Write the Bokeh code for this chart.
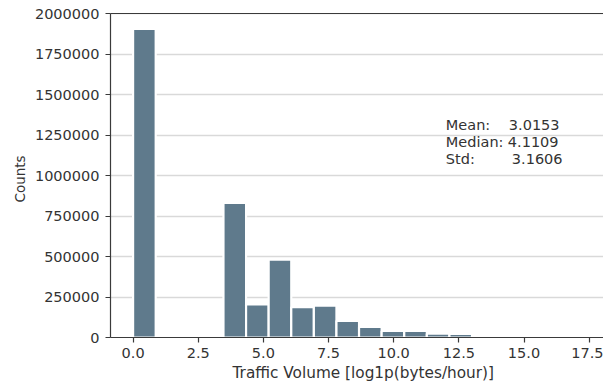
from bokeh.plotting import figure
from bokeh.models import Range1d, FixedTicker, LinearAxis, Label, Title
from bokeh.embed import file_html
from bokeh.resources import INLINE

# ---- data ----
bin_edges = [0.0, 0.867, 1.734, 2.601, 3.468, 4.335, 5.202, 6.069, 6.936, 7.803,
             8.67, 9.537, 10.404, 11.271, 12.138, 13.005, 13.872, 14.739, 15.606,
             16.473, 17.34]
counts = [1905000, 0, 0, 0, 831000, 205000, 481000, 187000, 196000, 103000,
          66000, 40000, 40000, 23000, 22000, 3000, 1200, 500, 200, 80]
x_ticks = [0.0, 2.5, 5.0, 7.5, 10.0, 12.5, 15.0, 17.5]
x_tick_labels = ["0.0", "2.5", "5.0", "7.5", "10.0", "12.5", "15.0", "17.5"]
y_ticks = [0, 250000, 500000, 750000, 1000000, 1250000, 1500000, 1750000, 2000000]
y_tick_labels = ["0", "250000", "500000", "750000", "1000000", "1250000",
                 "1500000", "1750000", "2000000"]
stat_names = ["Mean:", "Median:", "Std:"]
stat_values = ["3.0153", "4.1109", "3.1606"]
x_label = "Traffic Volume [log1p(bytes/hour)]"
y_label = "Counts"

FONT = "DejaVu Sans"
FS = "14.5px"
TXT = "#333333"
AX = "#3a3a3a"
Y_MAX = 2000250

p = figure(width=603, height=386,
           x_range=Range1d(-0.867, 18.05), y_range=Range1d(0, Y_MAX),
           output_backend="svg", toolbar_location=None,
           min_border_left=110, min_border_right=0,
           min_border_top=13, min_border_bottom=49)
p.outline_line_color = None
p.background_fill_color = "white"

p.xgrid.visible = False
p.ygrid.grid_line_color = "#d9d9d9"
p.ygrid.grid_line_width = 1.5

p.quad(left=bin_edges[:-1], right=bin_edges[1:], bottom=0, top=counts,
       fill_color="#5f7a8c", line_color="white", line_width=2.2)

for ax in (p.xaxis[0], p.yaxis[0]):
    ax.axis_line_color = AX
    ax.axis_line_width = 1.2
    ax.major_tick_line_color = AX
    ax.major_tick_line_width = 1.2
    ax.major_tick_out = 5
    ax.major_tick_in = 0
    ax.minor_tick_line_color = None
    ax.major_label_text_font = FONT
    ax.major_label_text_font_size = FS
    ax.major_label_text_color = TXT

p.xaxis.ticker = FixedTicker(ticks=x_ticks)
p.xaxis.major_label_overrides = {t: l for t, l in zip(x_ticks, x_tick_labels)}
p.xaxis.major_label_standoff = 5

p.yaxis.ticker = FixedTicker(ticks=y_ticks)
p.yaxis.major_label_overrides = {t: l for t, l in zip(y_ticks, y_tick_labels)}
p.yaxis.major_label_standoff = 6

top_axis = LinearAxis(ticker=FixedTicker(ticks=[]), axis_line_color=AX,
                      axis_line_width=1.2, major_tick_line_color=None,
                      minor_tick_line_color=None, major_label_standoff=0,
                      major_label_text_color=None)
p.add_layout(top_axis, "above")

# axis titles
p.add_layout(Title(text=x_label, align="left", offset=122, standoff=3,
                   text_font=FONT, text_font_size="15.3px", text_color=TXT,
                   text_font_style="normal"), "below")
p.add_layout(Title(text=y_label, align="left", offset=135, standoff=8,
                   text_font=FONT, text_font_size="13.5px", text_color=TXT,
                   text_font_style="normal"), "left")

# stats annotation
name_x = 12.0
y_anchor = 1309000
line_step = 105000
value_offsets = [63, 62, 66]
for i, (n, v) in enumerate(zip(stat_names, stat_values)):
    yy = y_anchor - i * line_step
    p.add_layout(Label(x=name_x, y=yy, text=n, text_font=FONT, text_font_size=FS,
                       text_color=TXT, text_baseline="alphabetic"))
    p.add_layout(Label(x=name_x, y=yy, x_offset=value_offsets[i], text=v,
                       text_font=FONT, text_font_size=FS, text_color=TXT,
                       text_baseline="alphabetic"))

open("out.html", "w").write(file_html(p, INLINE))
